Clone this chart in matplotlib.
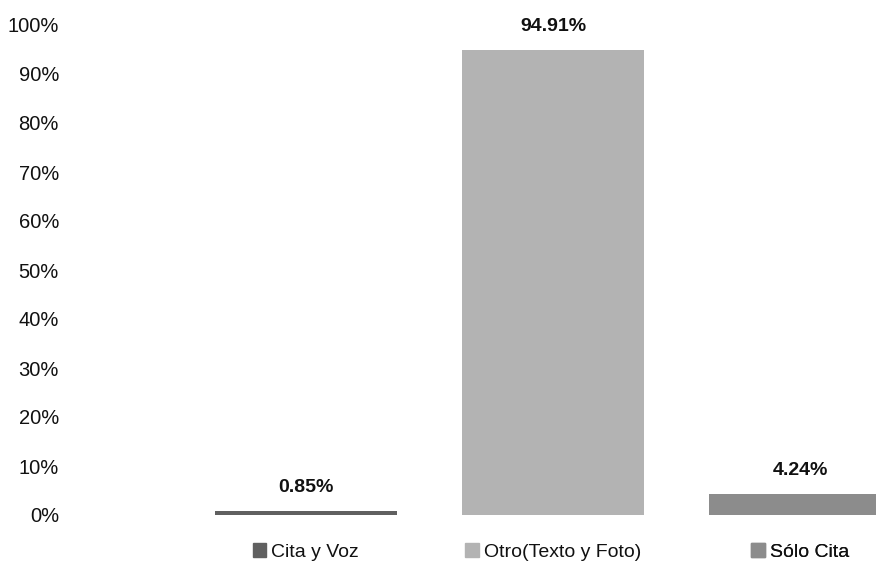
import matplotlib.pyplot as plt
import matplotlib.patches as mpatches
from matplotlib import font_manager

categories = ["Cita y Voz", "Otro(Texto y Foto)", "Sólo Cita"]
values = [0.85, 94.91, 4.24]
colors = ["#606060", "#b3b3b3", "#8c8c8c"]
yticks = [0, 10, 20, 30, 40, 50, 60, 70, 80, 90, 100]

names = {f.name for f in font_manager.fontManager.ttflist}
fam = ["Liberation Sans Narrow"] if "Liberation Sans Narrow" in names else ["Liberation Sans"]
plt.rcParams["font.family"] = fam + ["DejaVu Sans"]

fig = plt.figure(figsize=(8.76, 5.64), dpi=100)
ax = fig.add_axes([70 / 876, 49 / 564, 806 / 876, 490 / 564])

x = list(range(len(categories)))
ax.bar(x, values, width=0.735, color=colors)

for xi, v in zip(x, values):
    ax.annotate(f"{v:.2f}%", (xi, v), xytext=(0, 11), textcoords="offset points",
                ha="center", va="bottom", fontsize=14, fontweight="bold", color="#111111")

ax.set_ylim(0, 100)
ax.set_xlim(-0.954, 2.307)
ax.set_yticks(yticks)
ax.set_yticklabels([f"{t}%" for t in yticks], fontsize=14.5, color="#111111")
ax.set_xticks([])
ax.tick_params(axis="y", length=0, pad=8)
for s in ax.spines.values():
    s.set_visible(False)

# one legend entry under each bar
for xi, cat, c in zip(x, categories, colors):
    h = mpatches.Patch(color=c)
    leg = ax.legend([h], [cat], loc="center", bbox_to_anchor=(xi, -7.5),
                    bbox_transform=ax.transData, frameon=False, fontsize=14,
                    handlelength=0.7, handleheight=0.7, handletextpad=0.25)
    for t in leg.get_texts():
        t.set_color("#111111")
    ax.add_artist(leg)

fig.savefig("out.png", dpi=100)
